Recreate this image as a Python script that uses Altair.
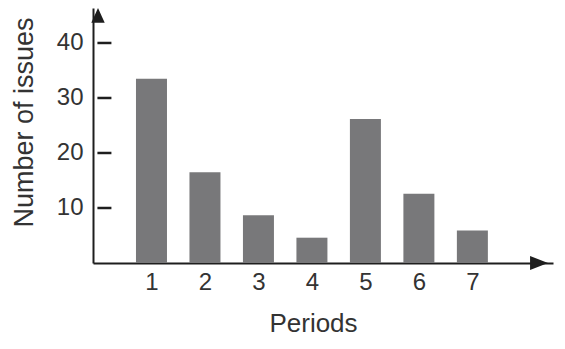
import altair as alt
import pandas as pd

periods = [1, 2, 3, 4, 5, 6, 7]
issues = [33.5, 16.5, 8.7, 4.6, 26.2, 12.6, 5.9]
y_ticks = [10, 20, 30, 40]
x_max = 8.414
y_max = 46.36
tick_mid = 0.12  # centre of the inward tick, in period units

bars_df = pd.DataFrame({"Period": periods, "Issues": issues})
ticks_df = pd.DataFrame({"t": y_ticks, "xm": [tick_mid] * len(y_ticks)})
up_df = pd.DataFrame({"Period": [0], "Issues": [y_max]})
right_df = pd.DataFrame({"Period": [x_max], "Issues": [0]})

FONT = "Liberation Sans"
AX = "#1e1e1e"
TXT = "#333333"

xs = alt.Scale(domain=[0, x_max], nice=False, zero=True)
ys = alt.Scale(domain=[0, y_max], nice=False, zero=True)

bars = alt.Chart(bars_df).mark_bar(size=31, color="#78787a").encode(
    x=alt.X("Period:Q", scale=xs,
            axis=alt.Axis(values=periods, title="Periods", grid=False, ticks=False,
                          domainColor=AX, domainWidth=2, labelFont=FONT, labelFontSize=24,
                          labelColor=TXT, labelPadding=7, titleFont=FONT, titleFontSize=26,
                          titleFontWeight="normal", titleColor=TXT, titleX=220, titleY=68,
                          titleBaseline="alphabetic", titleAlign="center", format="d")),
    y=alt.Y("Issues:Q", scale=ys,
            axis=alt.Axis(values=y_ticks, title="Number of issues", grid=False, ticks=False,
                          domainColor=AX, domainWidth=2, labelFont=FONT, labelFontSize=24,
                          labelColor=TXT, labelPadding=10, titleFont=FONT, titleFontSize=27,
                          titleFontWeight="normal", titleColor=TXT, titleX=-61, titleY=114,
                          titleBaseline="alphabetic", titleAlign="center")),
)

tick_marks = alt.Chart(ticks_df).mark_tick(
    color=AX, orient="horizontal", size=14, thickness=2.5, opacity=1
).encode(
    y=alt.Y("t:Q", scale=ys),
    x=alt.X("xm:Q", scale=xs),
)

up_arrow = alt.Chart(up_df).mark_point(
    shape="M0,0L-1,2.2L1,2.2Z", filled=True, size=180, color=AX, opacity=1, strokeWidth=0
).encode(x=alt.X("Period:Q", scale=xs), y=alt.Y("Issues:Q", scale=ys))

right_arrow = alt.Chart(right_df).mark_point(
    shape="M0,0L-2.6,-1L-2.6,1Z", filled=True, size=190, color=AX, opacity=1, strokeWidth=0
).encode(x=alt.X("Period:Q", scale=xs), y=alt.Y("Issues:Q", scale=ys))

chart = alt.layer(bars, tick_marks, up_arrow, right_arrow).properties(
    width=460, height=255,
    autosize=alt.AutoSizeParams(type="none"),
    padding={"left": 85, "top": 0, "right": 4, "bottom": 78},
    background="white",
).configure_view(stroke=None)

chart.save("out.html", embed_options={"renderer": "svg", "actions": False})
